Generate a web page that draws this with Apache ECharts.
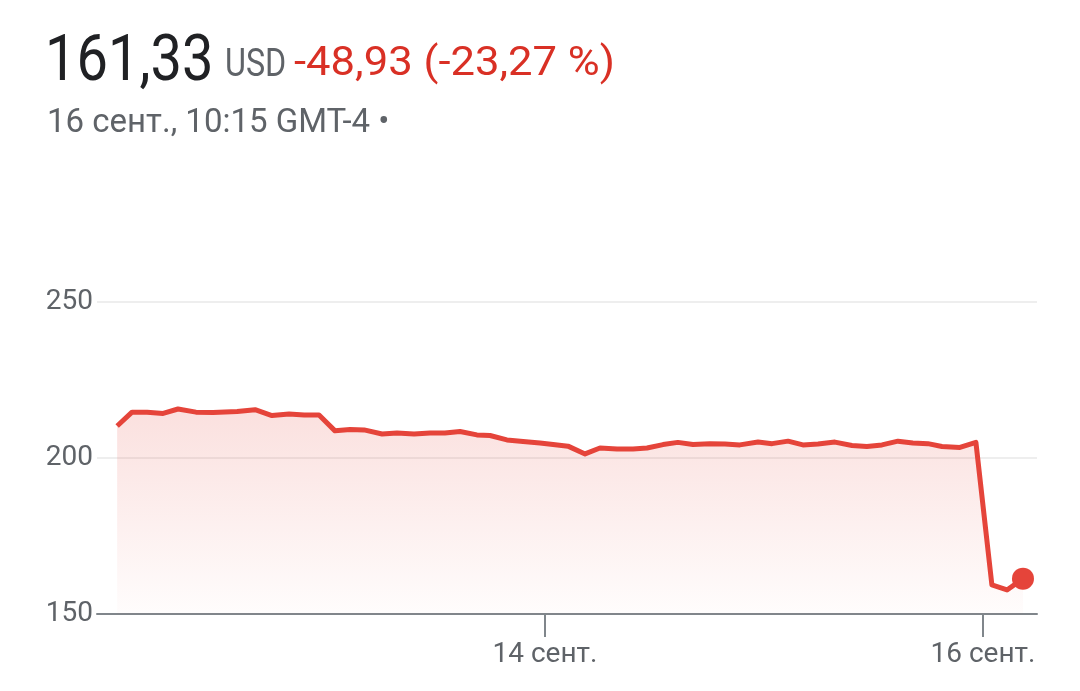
<!DOCTYPE html>
<html><head><meta charset="utf-8">
<script src="https://cdn.jsdelivr.net/npm/echarts@6/dist/echarts.min.js"></script>
<style>html,body{margin:0;padding:0;background:#fff}#c{width:1080px;height:691px}</style>
</head><body><div id="c"></div>
<script>
// x values in days of September (14 = "14 сент.", 16 = "16 сент.")
const times = [12.046,12.114,12.183,12.256,12.324,12.406,12.484,12.594,12.676,12.753,12.831,12.900,12.968,
  13.041,13.110,13.174,13.256,13.324,13.402,13.475,13.543,13.612,13.689,13.749,13.826,13.900,13.977,
  14.037,14.105,14.183,14.251,14.329,14.402,14.466,14.539,14.607,14.676,14.753,14.822,14.890,14.973,
  15.037,15.110,15.178,15.247,15.324,15.402,15.470,15.539,15.612,15.680,15.749,15.813,15.895,15.968,
  16.041,16.110,16.183];
const prices = [210.26,214.7,214.7,214.3,215.7,214.7,214.6,214.9,215.5,213.6,214.1,213.8,213.8,
  208.7,209.1,209.0,207.7,208.0,207.7,208.0,208.0,208.5,207.4,207.2,205.8,205.3,204.8,
  204.3,203.8,201.3,203.2,202.9,202.9,203.2,204.3,205.0,204.3,204.6,204.5,204.2,205.1,
  204.6,205.4,204.2,204.5,205.1,204.0,203.7,204.2,205.4,204.8,204.6,203.7,203.4,205.0,
  159.3,157.7,161.33];
const xTickValues = [14, 16];
const xTickLabels = ['14 сент.', '16 сент.'];
const yTicks = [150, 200, 250];
const headerPrice = '161,33';
const headerCurrency = 'USD';
const headerChange = '-48,93 (-23,27 %)';
const headerDate = '16 сент., 10:15 GMT-4 •';

const RED = '#e5443a';
const GRAY = '#5f6368';
const FONT = 'Roboto';

const chart = echarts.init(document.getElementById('c'), null, {renderer: 'canvas'});
const lineData = times.map((t, i) => [t, prices[i]]);
const last = lineData[lineData.length - 1];

chart.setOption({
  animation: false,
  backgroundColor: '#ffffff',
  grid: {left: 97, right: 43, top: 302, bottom: 77, containLabel: false},
  graphic: [
    {type: 'text', x: 45, y: 32, scaleY: 1.15, style: {text: headerPrice, font: '400 56px Roboto', fill: '#202124'}},
    {type: 'text', x: 225, y: 47, scaleX: 0.85, style: {text: headerCurrency, font: '400 38px Roboto', fill: GRAY}},
    {type: 'text', x: 294, y: 45, scaleX: 1.09, style: {text: headerChange, font: '400 40px Roboto', fill: '#d93025'}},
    {type: 'text', x: 47, y: 107, style: {text: headerDate, font: '400 33px Roboto', fill: GRAY}}
  ],
  xAxis: {
    type: 'value', min: 11.954, max: 16.247,
    axisLine: {show: true, onZero: false, lineStyle: {color: '#80868b', width: 2}},
    axisTick: {show: true, customValues: xTickValues, length: 23, lineStyle: {color: '#80868b', width: 2}},
    axisLabel: {show: true, customValues: xTickValues, margin: 27, fontSize: 28, fontFamily: FONT, color: GRAY,
      formatter: v => { const i = xTickValues.indexOf(Math.round(v)); return i >= 0 ? xTickLabels[i] : ''; }},
    splitLine: {show: false}
  },
  yAxis: {
    type: 'value', min: yTicks[0], max: yTicks[yTicks.length - 1], interval: 50,
    axisLine: {show: false}, axisTick: {show: false},
    axisLabel: {margin: 4, fontSize: 28, fontFamily: FONT, color: GRAY},
    splitLine: {show: true, lineStyle: {color: '#eeeeee', width: 2}}
  },
  series: [
    {
      type: 'line', data: lineData, symbol: 'none', smooth: false,
      lineStyle: {color: RED, width: 5, join: 'round'},
      areaStyle: {origin: 'start', color: new echarts.graphic.LinearGradient(0, 0, 0, 1, [
        {offset: 0, color: 'rgba(230,70,60,0.24)'},
        {offset: 1, color: 'rgba(230,70,60,0.02)'}
      ])},
      z: 2
    },
    {
      type: 'scatter', data: [last], symbol: 'circle', symbolSize: 22,
      itemStyle: {color: RED, opacity: 1}, z: 3
    }
  ]
});
</script></body></html>
